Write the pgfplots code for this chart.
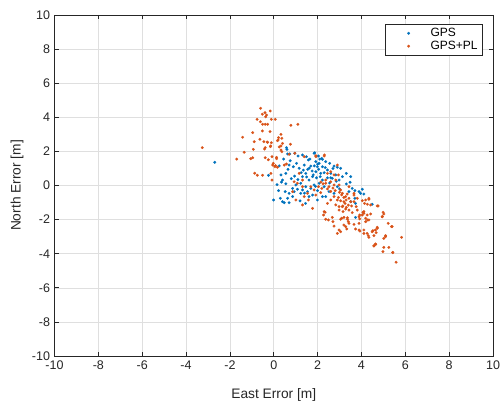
\documentclass[border=0pt]{standalone}
\usepackage{pgfplots}
\pgfplotsset{compat=1.18}
\usepackage{fontspec}
\setmainfont{Liberation Sans}
\definecolor{mblue}{RGB}{0,114,189}
\definecolor{morange}{RGB}{217,83,25}
\definecolor{axgray}{RGB}{38,38,38}
\definecolor{gridgray}{RGB}{223,223,223}
\pgfplotsset{mydots/.style={only marks, mark=*, mark size=1.35pt, mark options={line width=0.2pt},
  legend image code/.code={\path[draw=none,fill=none] (0pt,0pt) -- (40pt,0pt); \draw[mark repeat=2,mark phase=2,##1,only marks] plot coordinates {(0pt,0pt) (20pt,0pt) (40pt,0pt)};}}}
\begin{document}
\begin{tikzpicture}
\begin{axis}[
  at={(54.5pt,51pt)}, anchor=south west,
  scale only axis, width=438.5pt, height=341pt,
  xmin=-10, xmax=10, ymin=-10, ymax=10,
  xtick={-10,-8,...,10}, ytick={-10,-8,...,10},
  grid=major, major grid style={gridgray, line width=0.6pt},
  axis line style={axgray, line width=0.7pt},
  tick style={axgray, line width=0.7pt},
  tick align=inside, major tick length=4.4pt,
  xtick pos=both, ytick pos=both,
  /pgf/number format/assume math mode=true,
  ticklabel style={font=\fontsize{12.5}{14}\selectfont, text=axgray},
  xticklabel style={yshift=-1pt},
  yticklabel style={xshift=-1pt},
  xlabel={East Error [m]}, ylabel={North Error [m]},
  label style={font=\fontsize{13.75}{16}\selectfont, text=axgray},
  xlabel style={at={(axis description cs:0.5,-0.1144)}, anchor=center},
  ylabel style={at={(axis description cs:-0.0855,0.5)}, anchor=center},
  legend style={at={(1,1)}, anchor=north east, xshift=-10pt, yshift=-9pt,
    draw=axgray, line width=0.7pt, fill=white, font=\fontsize{12}{13}\selectfont, text=black,
    inner xsep=3pt, inner ysep=2pt, cells={anchor=west}, row sep=-1pt},
]
\addplot[mydots, color=mblue] table {
x y
-2.69 1.36
-0.24 0.60
-0.01 -0.85
0.22 -0.30
0.60 2.12
0.63 1.85
1.87 1.92
2.19 1.59
0.58 2.22
0.73 1.85
0.96 1.89
1.11 1.73
1.31 1.79
1.49 1.69
1.58 1.50
1.84 1.89
2.04 1.73
2.22 1.53
2.37 1.40
2.55 1.30
2.75 1.14
2.90 1.07
3.05 1.01
3.31 0.71
3.51 0.52
3.31 0.09
3.48 0.19
3.70 -0.30
3.89 -0.36
4.04 -0.22
4.11 -0.50
3.43 -0.36
0.40 -0.95
0.48 -1.01
0.63 -0.75
0.70 -1.01
0.93 -0.36
1.08 -0.22
1.23 0.13
1.31 0.52
1.46 0.71
1.61 0.32
1.77 0.52
1.92 0.81
1.99 1.10
2.07 1.30
2.14 0.71
2.22 0.32
2.30 -0.07
2.07 0.13
1.84 0.03
1.69 -0.17
1.54 -0.36
1.46 -0.07
1.31 -0.26
1.23 -0.46
1.01 0.03
0.86 -0.17
0.55 0.71
0.40 0.32
0.33 0.62
0.70 1.20
0.89 1.10
1.04 1.30
1.16 1.01
1.39 1.20
1.69 1.14
1.92 1.40
2.22 1.10
2.45 0.91
2.60 0.71
2.67 0.42
2.83 0.62
2.98 0.32
3.13 0.52
2.90 -0.07
2.75 -0.46
2.52 -0.36
2.37 -0.65
2.22 -0.65
1.99 -0.85
1.77 -0.56
1.61 -0.65
0.86 -0.65
0.70 -0.46
0.52 -0.36
3.73 -1.87
3.58 -0.17
3.96 -0.46
3.70 -0.75
3.51 -0.95
4.49 -1.10
3.73 -1.05
1.55 0.95
1.75 0.85
2.05 0.95
2.30 0.75
2.45 0.45
2.55 0.15
1.95 0.45
1.85 1.15
2.35 1.05
1.65 1.55
2.10 1.55
1.35 0.90
0.95 0.55
1.10 0.35
2.70 1.00
2.85 0.25
3.00 -0.20
0.15 0.05
0.55 0.10
0.80 0.40
1.40 -0.45
2.00 -0.30
0.30 -0.75
0.45 1.55
0.75 1.45
0.25 1.15
1.20 -0.90
1.45 -1.05
1.62 1.02
1.80 0.62
2.12 0.52
2.00 1.25
1.50 0.50
1.25 0.75
0.65 0.95
0.35 0.20
1.90 -0.05
2.60 0.45
};
\addlegendentry{GPS}
\addplot[mydots, color=morange] table {
x y
-0.60 4.53
-0.52 4.18
-0.40 4.27
-0.33 4.13
-0.37 4.03
-0.76 3.88
-0.61 3.74
-0.51 3.59
-0.39 3.59
-0.28 3.59
-0.52 3.20
-0.96 3.10
-1.42 2.83
-0.63 2.71
-0.89 2.57
-0.45 2.57
-0.30 2.55
-3.26 2.22
-0.39 2.22
-1.35 1.95
-0.93 2.12
-0.96 1.63
-1.69 1.55
-1.05 1.57
-0.87 0.72
-0.75 0.60
-0.51 0.60
-0.08 0.32
-0.39 1.63
-0.25 1.51
-0.08 1.69
0.13 1.57
-0.05 1.20
0.05 1.10
0.17 1.07
-0.42 2.14
-0.15 2.28
-0.28 2.53
-0.11 2.51
0.17 2.63
-0.11 3.88
0.07 3.88
-0.16 4.37
0.78 3.53
1.10 3.59
-0.17 3.16
0.33 3.00
0.20 2.67
0.76 2.42
0.25 2.26
0.33 2.08
0.96 1.89
0.13 1.65
1.92 1.75
2.31 1.79
-0.02 1.30
0.08 1.16
0.48 1.20
0.58 1.26
-0.13 0.71
0.22 2.81
0.37 2.77
0.40 2.47
0.33 2.32
-0.14 2.32
0.37 1.98
0.70 1.83
0.93 0.22
1.08 0.13
1.31 0.32
0.86 -0.36
1.01 -0.85
1.31 -1.14
1.39 -0.65
1.58 -0.85
1.77 -1.34
1.54 -0.46
1.84 -0.26
2.04 -0.07
2.19 -0.17
2.37 0.13
2.52 -0.07
2.60 0.22
2.75 0.03
2.83 0.32
2.98 0.03
3.05 -0.26
3.13 -0.46
3.28 -0.65
3.20 -0.95
3.31 -1.28
3.43 -1.44
3.16 -1.53
2.98 -1.44
2.83 -1.14
2.90 -0.85
2.75 -0.65
2.60 -0.85
2.45 -1.05
2.30 -1.53
2.37 -1.98
2.49 -2.02
2.67 -1.87
2.70 -2.12
2.75 -2.38
2.98 -2.61
2.90 -2.81
3.05 -1.98
3.20 -1.87
3.36 -1.98
3.43 -2.22
3.28 -2.41
3.58 -1.59
3.76 -1.24
3.89 -1.83
4.04 -1.73
4.11 -1.53
4.26 -1.73
4.34 -2.02
4.19 -2.12
3.89 -2.61
4.11 -2.61
4.26 -2.81
4.34 -3.04
4.52 -2.65
4.64 -2.61
4.72 -2.45
4.95 -1.83
5.02 -1.67
5.22 -2.22
5.40 -2.41
5.83 -3.04
5.10 -3.00
5.02 -3.10
4.64 -3.43
4.57 -3.55
5.02 -3.63
5.25 -3.63
5.43 -3.92
5.58 -4.50
2.37 0.32
2.45 0.71
2.60 0.81
2.75 0.62
2.30 1.73
1.92 1.69
1.39 1.69
2.90 1.20
2.95 0.62
3.43 -0.07
3.66 -0.56
3.81 -0.75
4.04 -0.89
4.19 -0.85
4.34 -0.75
4.42 -1.14
4.72 -1.20
3.66 -0.95
3.51 -0.95
3.43 -0.75
1.31 -0.07
1.16 0.71
1.69 -0.07
1.92 -0.56
2.14 -0.42
3.00 -0.40
3.10 -0.55
3.20 -0.70
3.30 -0.85
3.05 -0.90
3.25 -1.05
3.15 -1.20
2.95 -0.70
3.35 -0.50
3.40 -1.15
2.25 0.10
2.45 -0.20
2.60 -0.35
2.70 -0.15
2.15 0.20
2.80 -0.30
2.34 -1.57
2.27 -1.73
3.66 -0.46
4.34 -0.81
4.14 -1.05
4.27 -1.10
4.07 -1.57
4.42 -1.67
4.76 -1.20
4.99 -1.57
4.95 -1.83
5.37 -2.41
5.10 -2.94
4.67 -2.77
4.72 -2.51
4.49 -2.71
4.31 -2.94
4.57 -2.94
4.11 -2.81
3.93 -2.67
3.73 -2.55
3.33 -2.55
3.05 -2.71
3.20 -2.32
3.40 -2.12
3.66 -2.28
3.89 -2.22
3.92 -1.96
4.19 -1.92
4.27 -2.02
4.57 -3.53
4.65 -3.45
4.98 -3.88
5.43 -3.94
3.10 -1.92
3.36 -1.89
3.92 -1.73
3.81 -1.44
4.11 -1.63
2.98 -1.24
3.13 -1.24
3.28 -1.38
3.55 -1.20
};
\addlegendentry{GPS+PL}
\end{axis}
\pgfresetboundingbox
\useasboundingbox (0,0) rectangle (500pt,407pt);
\end{tikzpicture}
\end{document}
